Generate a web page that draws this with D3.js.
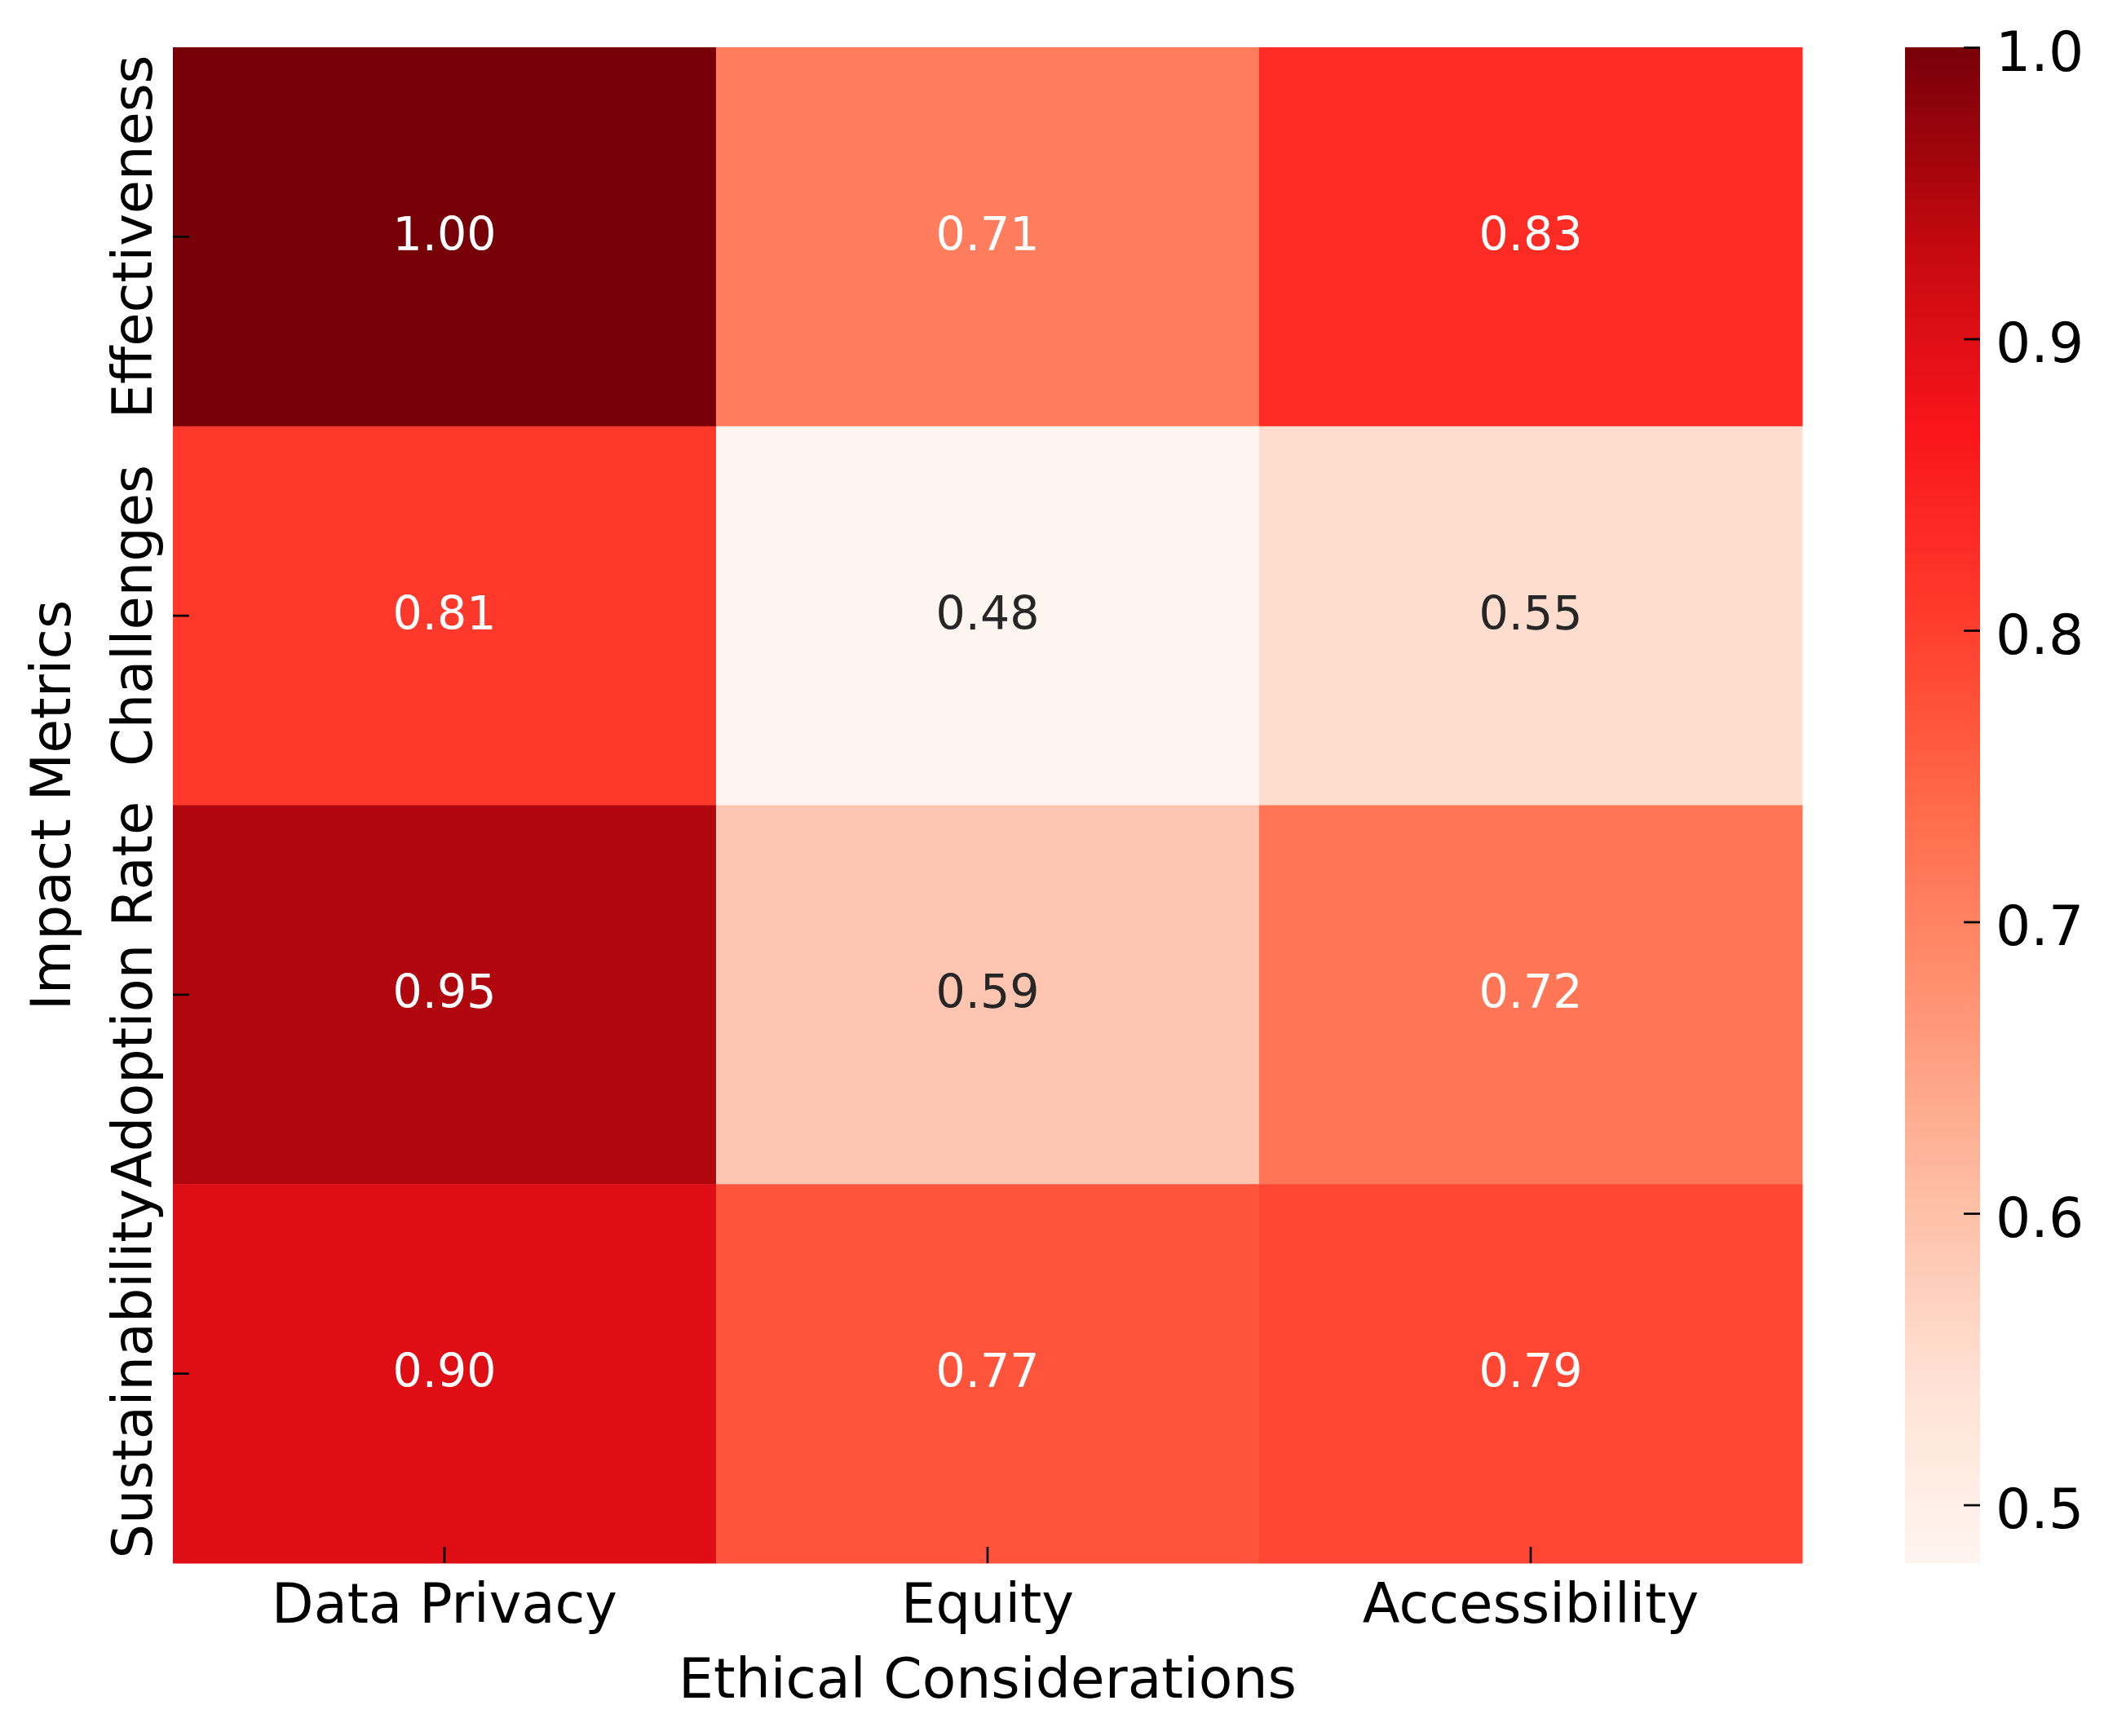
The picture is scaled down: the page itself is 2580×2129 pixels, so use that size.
<!DOCTYPE html>
<html>
<head>
<meta charset="utf-8">
<script src="https://cdn.jsdelivr.net/npm/d3@7"></script>
<style>
  html, body { margin: 0; padding: 0; background: #ffffff; }
  svg { display: block; font-family: "DejaVu Sans", sans-serif; }
</style>
</head>
<body>
<svg id="chart" width="2580" height="2129"></svg>
<script>
// ---- data ----
const columns = ["Data Privacy", "Equity", "Accessibility"];
const rows = ["Effectiveness", "Challenges", "Adoption Rate", "Sustainability"];
const dataPrivacy = [1.00, 0.81, 0.95, 0.90];
const equity = [0.71, 0.48, 0.59, 0.77];
const accessibility = [0.83, 0.55, 0.72, 0.79];
const colorbarTicks = [0.5, 0.6, 0.7, 0.8, 0.9, 1.0];
const xLabel = "Ethical Considerations";
const yLabel = "Impact Metrics";
// colormap stops (a "Reds" style ramp), positions 0..1
const cmapColors = ["#fff5f0", "#ffe0d2", "#fdbba1", "#ff9272", "#ff6a4a", "#ff3b2c", "#f8141a", "#c1080f", "#770008"];

const seriesByColumn = [dataPrivacy, equity, accessibility];
const cells = [];
rows.forEach((r, i) => columns.forEach((c, j) => cells.push({ row: r, col: c, value: seriesByColumn[j][i] })));

// ---- layout ----
const svg = d3.select("#chart");
const X0 = 212, X1 = 2210, Y0 = 58, Y1 = 1917;
const CB0 = 2336, CB1 = 2428;
const tickFont = 67, labelFont = 68, annotFont = 57, cbFont = 68;

const x = d3.scaleBand().domain(columns).range([X0, X1]).padding(0);
const y = d3.scaleBand().domain(rows).range([Y0, Y1]).padding(0);

const allVals = cells.map(d => d.value);
const vmin = d3.min(allVals), vmax = d3.max(allVals);
const tScale = d3.scaleLinear().domain([vmin, vmax]).range([0, 1]).clamp(true);
const stopScale = d3.scaleLinear()
  .domain(cmapColors.map((_, i) => i / (cmapColors.length - 1)))
  .range(cmapColors)
  .interpolate(d3.interpolateRgb);
const color = v => stopScale(tScale(v));

function luminance(c) {
  const rgb = d3.rgb(c);
  const f = v => { v /= 255; return v <= 0.03928 ? v / 12.92 : Math.pow((v + 0.055) / 1.055, 2.4); };
  return 0.2126 * f(rgb.r) + 0.7152 * f(rgb.g) + 0.0722 * f(rgb.b);
}

// ---- cells ----
svg.append("g").selectAll("rect").data(cells).join("rect")
  .attr("x", d => x(d.col))
  .attr("y", d => y(d.row))
  .attr("width", x.bandwidth() + 0.5)
  .attr("height", y.bandwidth() + 0.5)
  .attr("fill", d => color(d.value));

svg.append("g").selectAll("text").data(cells).join("text")
  .attr("x", d => x(d.col) + x.bandwidth() / 2)
  .attr("y", d => y(d.row) + y.bandwidth() / 2 + annotFont * 0.36 - 4)
  .attr("text-anchor", "middle")
  .attr("font-size", annotFont)
  .attr("fill", d => luminance(color(d.value)) > 0.408 ? "#262626" : "#ffffff")
  .text(d => d.value.toFixed(2));

// ---- x axis (ticks inward) ----
const xAxis = svg.append("g").attr("transform", `translate(0,${Y1})`)
  .call(d3.axisBottom(x).tickSizeInner(-20).tickSizeOuter(0).tickPadding(0));
xAxis.select(".domain").remove();
xAxis.selectAll(".tick line").attr("stroke", "#000").attr("stroke-width", 2.7);
xAxis.selectAll(".tick text")
  .attr("font-size", tickFont).attr("fill", "#000")
  .attr("font-family", "DejaVu Sans")
  .attr("dy", null).attr("y", 73);

// ---- y axis (ticks inward, rotated labels) ----
const yAxis = svg.append("g").attr("transform", `translate(${X0},0)`)
  .call(d3.axisLeft(y).tickSizeInner(-20).tickSizeOuter(0).tickPadding(0));
yAxis.select(".domain").remove();
yAxis.selectAll(".tick line").attr("stroke", "#000").attr("stroke-width", 2.7);
yAxis.selectAll(".tick text")
  .attr("font-size", tickFont).attr("fill", "#000")
  .attr("font-family", "DejaVu Sans")
  .attr("x", null).attr("dy", null)
  .attr("text-anchor", "middle")
  .attr("transform", "translate(-26,0) rotate(-90)");

// ---- axis labels ----
svg.append("text")
  .attr("x", (X0 + X1) / 2).attr("y", 2082)
  .attr("text-anchor", "middle").attr("font-size", labelFont).attr("fill", "#000")
  .text(xLabel);
svg.append("text")
  .attr("transform", `translate(86,${(Y0 + Y1) / 2}) rotate(-90)`)
  .attr("text-anchor", "middle").attr("font-size", labelFont).attr("fill", "#000")
  .text(yLabel);

// ---- colorbar ----
const cbScale = d3.scaleLinear().domain([vmin, vmax]).range([Y1, Y0]);
const defs = svg.append("defs");
const grad = defs.append("linearGradient").attr("id", "cbgrad")
  .attr("x1", 0).attr("y1", 1).attr("x2", 0).attr("y2", 0);
grad.selectAll("stop").data(d3.range(0, 1.0001, 1 / 64)).join("stop")
  .attr("offset", d => d)
  .attr("stop-color", d => stopScale(d));
svg.append("rect")
  .attr("x", CB0).attr("y", Y0)
  .attr("width", CB1 - CB0).attr("height", Y1 - Y0)
  .attr("fill", "url(#cbgrad)");

const cbAxis = svg.append("g").attr("transform", `translate(${CB1},0)`)
  .call(d3.axisRight(cbScale).tickValues(colorbarTicks).tickFormat(d3.format(".1f"))
    .tickSizeInner(-20).tickSizeOuter(0).tickPadding(0));
cbAxis.select(".domain").remove();
cbAxis.selectAll(".tick line").attr("stroke", "#000").attr("stroke-width", 2.7);
cbAxis.selectAll(".tick text")
  .attr("font-size", cbFont).attr("fill", "#000")
  .attr("font-family", "DejaVu Sans")
  .attr("x", 19).attr("dy", null).attr("y", cbFont * 0.36 + 4);
</script>
</body>
</html>
